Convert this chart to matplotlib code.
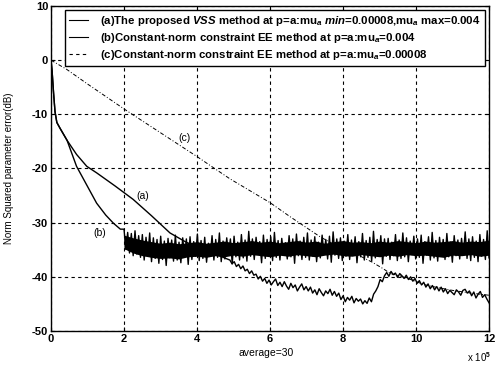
import numpy as np
import matplotlib
matplotlib.use("Agg")
import matplotlib.pyplot as plt
from matplotlib.lines import Line2D

plt.rcParams['font.family'] = ['Liberation Sans', 'DejaVu Sans']
plt.rcParams['mathtext.fontset'] = 'custom'
plt.rcParams['mathtext.rm'] = 'Liberation Sans:bold'
plt.rcParams['mathtext.it'] = 'Liberation Sans:italic:bold'

# %% data (x in units of 1e5 iterations, y in dB)
# (b) mu=0.004: fast drop, then noisy floor
b_head_x = [0, 0.03, 0.07, 0.11, 0.16, 0.25, 0.44, 0.70, 1.0, 1.25, 1.5, 1.71, 1.9]
b_head_y = [0, -2.0, -6.0, -9.5, -11.5, -12.6, -14.8, -19.6, -23.3, -26.4, -28.6, -30.1, -31.2]
b_noise = [
    -31.2, -34.9, -31.8, -35.6, -32.0, -36.1, -31.5, -35.8, -32.4, -36.4,
    -32.2, -36.9, -32.7, -36.2, -31.9, -37.2, -32.8, -36.6, -33.1, -37.5,
    -32.5, -36.8, -33.4, -37.9, -32.9, -36.5, -33.2, -37.1, -32.3, -36.9,
    -33.6, -37.4, -32.8, -36.3, -33.0, -37.7, -32.6, -36.8, -33.5, -36.2,
    -32.1, -37.0, -33.3, -36.6, -32.7, -37.3, -33.8, -36.1, -32.4, -36.9,
    -33.1, -36.4, -31.9, -37.2, -33.4, -36.7, -32.8, -35.9, -33.0, -37.6,
    -32.5, -36.3, -33.6, -36.9, -32.2, -36.5, -33.2, -37.1, -31.6, -36.2,
    -33.0, -36.8, -32.7, -35.8, -33.5, -37.4, -32.3, -36.6, -33.1, -36.0,
    -32.6, -37.0, -31.8, -36.4, -33.3, -36.9, -32.9, -35.9, -33.7, -36.7,
    -32.4, -36.3, -33.0, -37.5, -32.1, -36.1, -33.4, -36.8, -32.7, -36.4,
    -31.9, -36.9, -33.2, -36.2, -32.6, -37.2, -33.6, -36.5, -32.3, -35.8,
    -33.1, -36.7, -32.5, -37.3, -31.7, -36.0, -33.0, -36.6, -32.8, -37.0,
    -33.4, -36.2, -32.2, -36.8, -33.2, -35.9, -32.6, -37.4, -33.5, -36.3,
    -32.0, -36.9, -33.3, -36.4, -32.7, -37.1, -31.6, -36.5, -33.1, -36.0,
    -32.4, -37.6, -33.0, -36.2, -32.9, -36.8, -33.6, -36.1, -32.2, -37.0,
    -33.2, -36.6, -31.9, -36.3, -32.8, -37.2, -33.4, -35.9, -32.5, -36.7,
    -33.0, -36.4, -32.3, -37.5, -33.5, -36.0, -32.6, -36.9, -31.8, -36.5,
    -33.3, -37.1, -32.7, -36.2, -33.1, -36.8, -32.0, -36.3, -33.6, -37.3,
    -32.4, -36.1, -33.2, -36.7, -32.9, -35.9, -31.7, -36.6, -33.0, -37.0,
    -32.6, -36.4, -33.4, -37.2, -32.2, -36.2, -33.1, -36.8, -31.5, -36.5,
]
b_noise_start, b_noise_end = 2.0, 12.0
# dense black core of the (b) noise band, every 0.25 from 2 to 12
b_core_top = [
    -32.3, -32.8, -33.2, -33.5, -33.8, -33.6, -33.9, -33.7, -33.5, -33.8,
    -33.6, -33.4, -33.7, -33.5, -33.3, -33.6, -33.4, -33.7, -33.5, -33.3,
    -33.6, -33.4, -33.8, -33.5, -33.3, -33.6, -33.5, -33.7, -33.4, -33.6,
    -33.3, -33.5, -33.7, -33.4, -33.6, -33.5, -33.3, -33.6, -33.4, -33.5, -33.2,
]
b_core_bot = [
    -34.8, -35.6, -36.1, -36.4, -36.6, -36.5, -36.7, -36.3, -36.2, -36.4,
    -36.1, -36.3, -36.0, -36.2, -35.9, -36.1, -36.3, -36.0, -36.2, -35.9,
    -36.1, -36.3, -36.0, -35.8, -36.1, -36.2, -35.9, -36.1, -36.3, -36.0,
    -36.2, -35.9, -36.1, -36.0, -36.2, -36.4, -36.0, -36.1, -35.9, -36.2, -36.0,
]

# (a) proposed VSS: follows (b) first, slower descent, then lower floor
a_head_x = [0, 0.03, 0.07, 0.11, 0.16, 0.25, 0.44, 0.70, 0.98, 1.25, 1.75, 2.25, 2.75, 3.26, 3.7, 4.2]
a_head_y = [0, -2.0, -6.0, -9.5, -11.5, -12.6, -14.8, -17.4, -19.6, -20.8, -23.2, -25.7, -28.7, -31.9, -33.6, -35.0]
a_tail = [
    -36.9, -37.6, -37.2, -38.1, -37.7, -38.5, -38.0, -38.9, -38.6, -39.4, -38.9, -39.7,
    -39.5, -40.4, -39.9, -40.8, -40.3, -41.2, -40.6, -41.5, -40.9, -40.4, -41.6, -41.0,
    -41.8, -40.9, -41.7, -42.3, -41.2, -42.0, -41.5, -42.6, -41.9, -41.3, -42.4, -41.8,
    -42.6, -41.9, -43.0, -42.4, -43.3, -42.2, -42.9, -43.5, -42.6, -43.1, -42.3, -43.4,
    -42.7, -43.6, -43.0, -44.2, -43.5, -44.6, -43.8, -44.3, -43.6, -44.8, -44.0, -44.5,
    -44.1, -45.0, -44.4, -44.9, -43.9, -44.6, -43.2, -42.6, -41.8, -40.5, -40.9, -39.8,
    -39.2, -39.9, -39.0, -39.6, -39.3, -40.1, -39.4, -39.8, -40.3, -39.7, -40.5, -40.0,
    -40.8, -40.3, -41.2, -40.7, -41.5, -41.0, -41.9, -41.3, -42.2, -41.6, -42.4, -41.8,
    -42.6, -41.9, -42.8, -42.2, -43.1, -42.5, -42.9, -43.3, -42.4, -42.8, -43.4, -42.5,
    -42.3, -43.0, -42.6, -43.5, -42.8, -43.9, -43.2, -42.7, -43.8, -43.3, -44.1, -44.8,
]
a_tail_start, a_tail_end = 4.9, 12.0

# (c) mu=0.00008: slow, almost linear descent
c_x = [0, 0.43, 1.0, 2.0, 3.0, 4.0, 4.9, 6.0, 6.55, 7.37, 7.8, 8.2, 8.45, 8.8, 9.1, 9.3,
       9.6, 9.9, 10.2, 10.6, 11.0, 11.5, 12.0]
c_y = [0, -1.7, -4.4, -9.0, -13.4, -17.8, -21.9, -26.3, -28.9, -32.6, -34.2, -35.4, -36.1,
       -37.3, -38.5, -39.4, -39.9, -40.6, -41.4, -42.0, -42.5, -43.0, -43.4]

legend_labels = [
    r"(a)The proposed $VSS$ method at p=a:mu$_a$ $min$=0.00008,mu$_a$ max=0.004",
    r"(b)Constant-norm constraint EE method at p=a:mu$_a$=0.004",
    r"(c)Constant-norm constraint EE method at p=a:mu$_a$=0.00008",
]
xticks = [0, 2, 4, 6, 8, 10, 12]
yticks = [10, 0, -10, -20, -30, -40, -50]

# %%
b_x = np.concatenate([b_head_x, np.linspace(b_noise_start, b_noise_end, len(b_noise))])
b_y = np.concatenate([b_head_y, b_noise])
b_core_x = np.linspace(b_noise_start, b_noise_end, len(b_core_top))
a_x = np.concatenate([a_head_x, np.linspace(a_tail_start, a_tail_end, len(a_tail))])
a_y = np.concatenate([a_head_y, a_tail])

fig = plt.figure(figsize=(4.97, 3.70), dpi=100)
ax = fig.add_axes([0.1026, 0.1054, 0.8814, 0.8784])

ax.plot(c_x, c_y, color="black", lw=0.7, linestyle=(0, (4, 2, 1, 2)))
ax.plot(a_x, a_y, color="black", lw=1.0)
ax.fill_between(b_core_x, b_core_bot, b_core_top, color="black", lw=0)
ax.plot(b_x, b_y, color="black", lw=1.0)

ax.set_xlim(0, 12)
ax.set_ylim(-50, 10)
ax.set_xticks(xticks)
ax.set_yticks(yticks)
ax.set_xticklabels([str(t) for t in xticks], fontsize=8, fontweight="bold")
ax.set_yticklabels([str(t) for t in yticks], fontsize=8, fontweight="bold")
ax.tick_params(direction="in", top=True, right=True, length=3, pad=2)
ax.grid(True, color="black", linestyle=(0, (3, 3)), linewidth=0.8)
for s in ax.spines.values():
    s.set_linewidth(1.0)

ax.set_ylabel("Norm Squared parameter error(dB)", fontsize=7)
ax.yaxis.set_label_coords(-0.085, 0.5)
ax.set_xlabel("average=30", fontsize=7.5)
ax.xaxis.set_label_coords(0.49, -0.052)
fig.text(0.94, 0.035, r"x 10$^5$", fontsize=7, va="center")

ax.text(3.67, -14.3, "(c)", fontsize=7.5, ha="center", va="center")
ax.text(2.5, -25.1, "(a)", fontsize=7.5, ha="center", va="center")
ax.text(1.34, -31.9, "(b)", fontsize=7.5, ha="center", va="center")

handles = [Line2D([], [], color="black", lw=0.8),
           Line2D([], [], color="black", lw=0.8),
           Line2D([], [], color="black", lw=0.8, linestyle=(0, (3, 3)))]
leg = ax.legend(handles, legend_labels, loc="upper left", bbox_to_anchor=(0.032, 0.988),
                prop={"size": 8.2, "weight": "bold"}, frameon=True, fancybox=False,
                handlelength=1.7, borderpad=0.35, labelspacing=0.26, handletextpad=1.05,
                borderaxespad=0)
leg.get_frame().set_edgecolor("black")
leg.get_frame().set_linewidth(1.0)
leg.get_frame().set_alpha(1)

fig.savefig("out.png", dpi=100)
